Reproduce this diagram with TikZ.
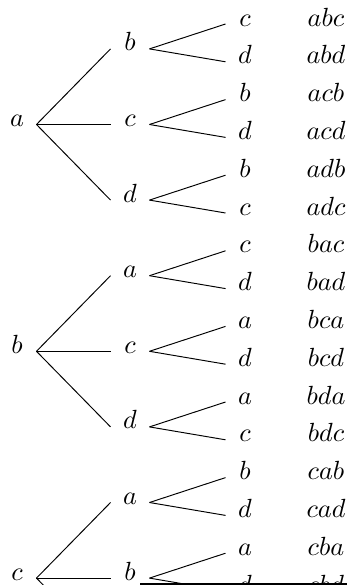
\documentclass[tikz,border=0pt]{standalone}
\begin{document}
\begin{tikzpicture}[x=0.41667pt,y=-0.41667pt,line width=0.4pt,
  lab/.style={inner sep=0pt,minimum width=15.83pt,text height=1.67pt,text depth=0pt,
    font=\fontsize{10.95}{13}\selectfont},
  word/.style={inner sep=0pt,text height=1.67pt,text depth=0pt,
    font=\fontsize{10.95}{13}\selectfont}]
\useasboundingbox (0,0) rectangle (347,585);
\clip (0,0) rectangle (347,585);
% leaves
\foreach \t [count=\i from 0] in {c,d,b,d,b,c,c,d,a,d,a,c,b,d,a,d}
  \node[lab] (l\i) at (245,{24+37.8*\i}) {$\t$};
% words
\foreach \w [count=\i from 0] in {abc,abd,acb,acd,adb,adc,bac,bad,bca,bcd,bda,bdc,cab,cad,cba,cbd}
  \node[word] (w\i) at (326,{24+37.8*\i}) {$\w$};
% second level
\foreach \t [count=\k from 0] in {b,c,d,a,c,d,a,b}
  \node[lab] (m\k) at (130,{30+37.8*(2*\k+0.5)}) {$\t$};
% roots
\foreach \t [count=\g from 0] in {a,b,c}
  \node[lab] (r\g) at (17,{30+37.8*(6*\g+2.5)}) {$\t$};
\coordinate (m8w) at (111,{30+37.8*16.5});
% edges
\foreach \k in {0,...,7}{
  \pgfmathtruncatemacro\la{2*\k}
  \pgfmathtruncatemacro\lb{2*\k+1}
  \draw (m\k.east) -- (l\la.west);
  \draw (m\k.east) -- (l\lb.west);
}
\foreach \g in {0,1,2}{
  \pgfmathtruncatemacro\ma{3*\g}
  \pgfmathtruncatemacro\mb{3*\g+1}
  \draw (r\g.east) -- (m\ma.west);
  \draw (r\g.east) -- (m\mb.west);
}
\draw (r0.east) -- (m2.west);
\draw (r1.east) -- (m5.west);
\draw (r2.east) -- (m8w);
% bottom rule
\coordinate (bl) at (140,583.8);
\coordinate (br) at (347,583.8);
\draw[line width=0.75pt] (bl) -- (br);
\end{tikzpicture}
\end{document}
